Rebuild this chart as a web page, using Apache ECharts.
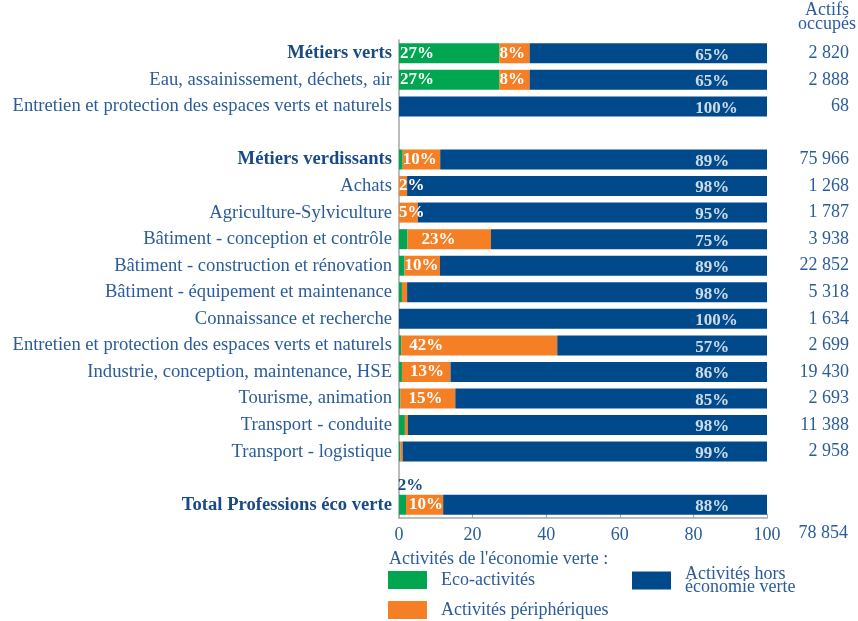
<!DOCTYPE html>
<html>
<head>
<meta charset="utf-8">
<script src="https://cdn.jsdelivr.net/npm/echarts@6/dist/echarts.min.js"></script>
<style>
  html, body { margin: 0; padding: 0; background: #fff; }
  #chart-container { width: 858px; height: 621px; }
</style>
</head>
<body>
<div id="chart-container"></div>
<script>
// categories, '' = blank separator rows
let categories = [
    'Métiers verts',
    'Eau, assainissement, déchets, air',
    'Entretien et protection des espaces verts et naturels',
    '',
    'Métiers verdissants',
    'Achats',
    'Agriculture-Sylviculture',
    'Bâtiment - conception et contrôle',
    'Bâtiment - construction et rénovation',
    'Bâtiment - équipement et maintenance',
    'Connaissance et recherche',
    'Entretien et protection des espaces verts et naturels',
    'Industrie, conception, maintenance, HSE',
    'Tourisme, animation',
    'Transport - conduite',
    'Transport - logistique',
    '',
    'Total Professions éco verte'
]
let boldRows = ['Métiers verts', 'Métiers verdissants', 'Total Professions éco verte']

// shares in %
let ecoActivites = [27.3, 27.3, 0, null, 1.0, 0, 0, 2.3, 1.5, 0.8, 0, 0.6, 0.8, 0.4, 1.6, 0.4, null, 1.9]
let peripheriques = [8.2, 8.2, 0, null, 10.2, 2.2, 5.1, 22.7, 9.6, 1.4, 0, 42.4, 13.2, 14.9, 0.8, 0.6, null, 10.1]
let horsEcoVerte = [64.5, 64.5, 100, null, 88.8, 97.8, 94.9, 75, 88.9, 97.8, 100, 57, 86, 84.7, 97.6, 99, null, 88]

// labels shown on bars ('' = none)
let ecoLabels = ['27%', '27%', '', '', '', '', '', '', '', '', '', '', '', '', '', '', '', '2%']
let periphLabels = ['8%', '8%', '', '', '10%', '2%', '5%', '23%', '10%', '', '', '42%', '13%', '15%', '', '', '', '10%']
let horsLabels = ['65%', '65%', '100%', '', '89%', '98%', '95%', '75%', '89%', '98%', '100%', '57%', '86%', '85%', '98%', '99%', '', '88%']

// actifs occupés
let actifs = ['2 820', '2 888', '68', '', '75 966', '1 268', '1 787', '3 938', '22 852', '5 318', '1 634', '2 699', '19 430', '2 693', '11 388', '2 958', '', '78 854']

let xTicks = [0, 20, 40, 60, 80, 100]

const GREEN = '#00A650'
const ORANGE = '#F47F24'
const BLUE = '#004A8C'
const TEXT = '#2B5C9A'
const DARK = '#1A4A86'
const FONT = '"Liberation Serif", "DejaVu Serif", serif'
const FS = 18
const CAT_FS = 18.6
const HORS_LABEL_X = 80.5
// extra left gap for some orange labels (by row)
const periphLabelGap = { 7: 14, 11: 8, 12: 8, 13: 8, 17: 3 }

let dom = document.getElementById('chart-container')
let myChart = echarts.init(dom, null, { renderer: 'canvas' })

let lastRow = categories.length - 1

function legendItem(name, top, left, formatter, lineHeight) {
    return {
        data: [name],
        left: left, top: top, padding: 0,
        itemWidth: 39, itemHeight: 18,
        icon: 'rect',
        selectedMode: false,
        formatter: formatter,
        textStyle: { fontFamily: FONT, fontSize: FS, color: TEXT, lineHeight: lineHeight, padding: [0, 0, 0, 9] }
    }
}

let option = {
    animation: false,
    textStyle: { fontFamily: FONT },
    title: [
        {
            text: '{h|Actifs}\n{h|occupés}',
            left: 797, top: 3, padding: 0,
            textStyle: {
                fontFamily: FONT, fontSize: FS, fontWeight: 'normal', color: TEXT,
                rich: { h: { fontFamily: FONT, fontSize: FS, color: TEXT, lineHeight: 14, width: 60, align: 'center' } }
            }
        },
        {
            text: "Activités de l'économie verte :",
            left: 384, top: 545,
            textStyle: { fontFamily: FONT, fontSize: FS, fontWeight: 'normal', color: TEXT }
        }
    ],
    legend: [
        legendItem('Eco-activités', 571, 388, '{name}', 18),
        legendItem('Activités périphériques', 601, 388, '{name}', 18),
        legendItem('Activités hors économie verte', 565, 632, () => 'Activités hors\néconomie verte', 13)
    ],
    grid: { left: 399, right: 91, top: 40, bottom: 103 },
    xAxis: {
        type: 'value',
        min: 0, max: 100, interval: 20,
        axisLine: { show: true, lineStyle: { color: '#A6A6A6', width: 1.5 } },
        axisTick: { show: true, inside: true, length: 4, lineStyle: { color: '#A6A6A6' } },
        splitLine: { show: false },
        axisLabel: {
            color: TEXT, fontFamily: FONT, fontSize: FS, margin: 8,
            formatter: v => xTicks.includes(v) ? String(v) : ''
        }
    },
    yAxis: [
        {
            type: 'category',
            data: categories,
            inverse: true,
            axisLine: { show: true, lineStyle: { color: '#A6A6A6', width: 1.5 } },
            axisTick: { show: false },
            axisLabel: {
                margin: 7,
                fontFamily: FONT, fontSize: CAT_FS, color: TEXT,
                formatter: v => boldRows.includes(v) ? '{b|' + v + '}' : v,
                rich: { b: { fontFamily: FONT, fontSize: CAT_FS, fontWeight: 'bold', color: DARK } }
            }
        },
        {
            type: 'category',
            data: actifs,
            inverse: true,
            position: 'right',
            axisLine: { show: false },
            axisTick: { show: false },
            axisLabel: {
                margin: 0,
                align: 'right',
                fontFamily: FONT, fontSize: FS, color: TEXT,
                formatter: (v, i) => i === lastRow ? '{t|' + v + '}' : '{n|' + v + '}',
                rich: {
                    n: { fontFamily: FONT, fontSize: FS, color: TEXT, padding: [0, -82, 0, 0] },
                    t: { fontFamily: FONT, fontSize: FS, color: TEXT, padding: [58, -81, 0, 0] }
                }
            }
        }
    ],
    series: [
        {
            name: 'Eco-activités',
            type: 'bar',
            stack: 'total',
            barWidth: 20,
            itemStyle: { color: GREEN },
            data: ecoActivites.map((v, i) => ({
                value: v,
                label: i === lastRow
                    ? { show: true, position: 'top', distance: 1, offset: [8, 0], color: DARK }
                    : { show: ecoLabels[i] !== '' }
            })),
            label: {
                position: 'insideLeft', distance: 1,
                color: '#fff', fontFamily: FONT, fontSize: 17, fontWeight: 'bold',
                formatter: p => ecoLabels[p.dataIndex]
            }
        },
        {
            name: 'Activités périphériques',
            type: 'bar',
            stack: 'total',
            barWidth: 20,
            itemStyle: { color: ORANGE },
            data: peripheriques.map((v, i) => ({
                value: v,
                label: { show: periphLabels[i] !== '', distance: periphLabelGap[i] || 0 }
            })),
            label: {
                position: 'insideLeft',
                color: '#fff', fontFamily: FONT, fontSize: 17, fontWeight: 'bold',
                formatter: p => periphLabels[p.dataIndex]
            }
        },
        {
            name: 'Activités hors économie verte',
            type: 'bar',
            stack: 'total',
            barWidth: 20,
            itemStyle: { color: BLUE },
            data: horsEcoVerte
        },
        {
            // labels of the blue segment, left-aligned at a common x
            type: 'scatter',
            symbolSize: 0,
            silent: true,
            data: horsLabels.map((t, i) => t === '' ? [null, i] : [HORS_LABEL_X, i]),
            label: {
                show: true, position: 'right', distance: 0, offset: [0, 2],
                color: '#fff', fontFamily: FONT, fontSize: 17, fontWeight: 'bold',
                formatter: p => horsLabels[p.dataIndex]
            }
        }
    ]
}

myChart.setOption(option)
window.addEventListener('resize', myChart.resize)
</script>
</body>
</html>
